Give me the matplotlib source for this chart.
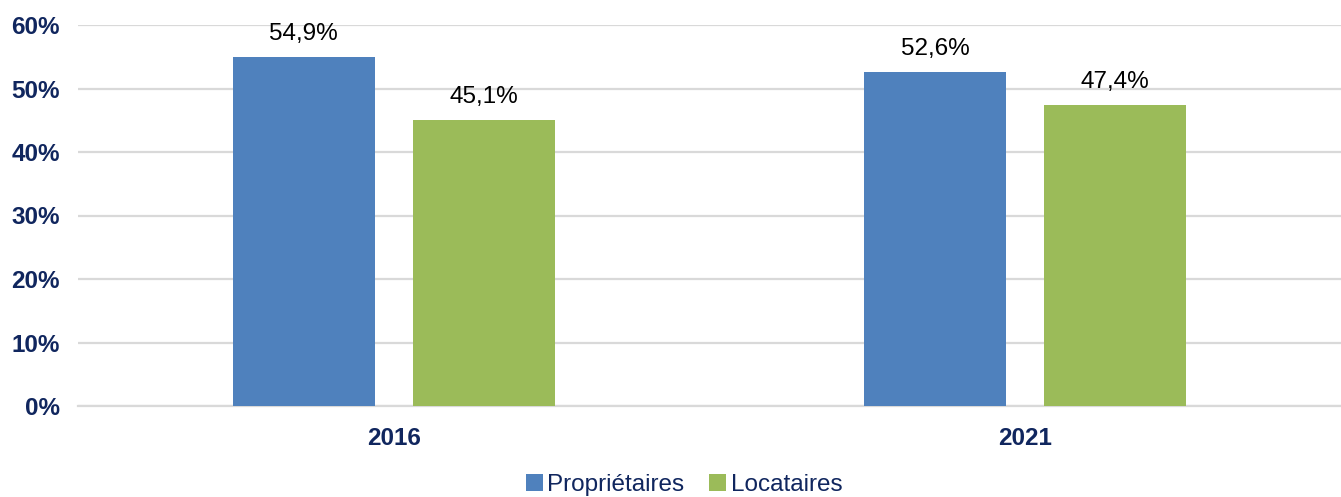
import matplotlib
matplotlib.use("Agg")
import matplotlib.pyplot as plt
import numpy as np
from matplotlib.ticker import FuncFormatter, MultipleLocator

categories = ["2016", "2021"]
series_names = ["Propriétaires", "Locataires"]
proprietaires = [54.9, 52.6]
locataires = [45.1, 47.4]
colors = ["#4F81BD", "#9BBB59"]

plt.rcParams['font.family'] = ['Liberation Sans', 'DejaVu Sans']
navy = "#10265E"
fs = 17.5

fig = plt.figure(figsize=(13.41, 4.97), dpi=100)
ax = fig.add_axes([78/1341, 91/497, 1 - 78/1341, (406-25)/497])

x = np.arange(len(categories))
w = 0.225
off = 0.1425
for vals, name, col, dx in [(proprietaires, series_names[0], colors[0], -off),
                            (locataires, series_names[1], colors[1], off)]:
    bars = ax.bar(x + dx, vals, width=w, color=col, label=name, zorder=3)
    for b, v in zip(bars, vals):
        ax.text(b.get_x() + b.get_width()/2, v + 1.9, f"{v:.1f}%".replace(".", ","),
                ha="center", va="bottom", fontsize=fs, color="black")

ax.set_xlim(-0.5, 1.5)
ax.set_ylim(0, 60)
ax.yaxis.set_major_locator(MultipleLocator(10))
ax.yaxis.set_major_formatter(FuncFormatter(lambda v, p: f"{int(v)}%"))
ax.set_xticks(x)
ax.set_xticklabels(categories)
ax.grid(axis="y", color="#D9D9D9", linewidth=1.6, zorder=0)
for s in ["top", "right", "left"]:
    ax.spines[s].set_visible(False)
ax.spines["bottom"].set_color("#D9D9D9")
ax.spines["bottom"].set_linewidth(1.6)
ax.tick_params(axis="both", length=0, labelsize=fs, labelcolor=navy)
ax.tick_params(axis="y", pad=13)
ax.tick_params(axis="x", pad=15)
for lab in ax.get_xticklabels() + ax.get_yticklabels():
    lab.set_fontweight("bold")

leg = fig.legend(loc="center", bbox_to_anchor=(684/1341, 1 - 485/497), ncol=2,
                 frameon=False, fontsize=fs, handlelength=0.7, handleheight=0.7,
                 handletextpad=0.2, columnspacing=1.0, borderpad=0)
for t in leg.get_texts():
    t.set_color(navy)

fig.savefig("out.png", dpi=100)
